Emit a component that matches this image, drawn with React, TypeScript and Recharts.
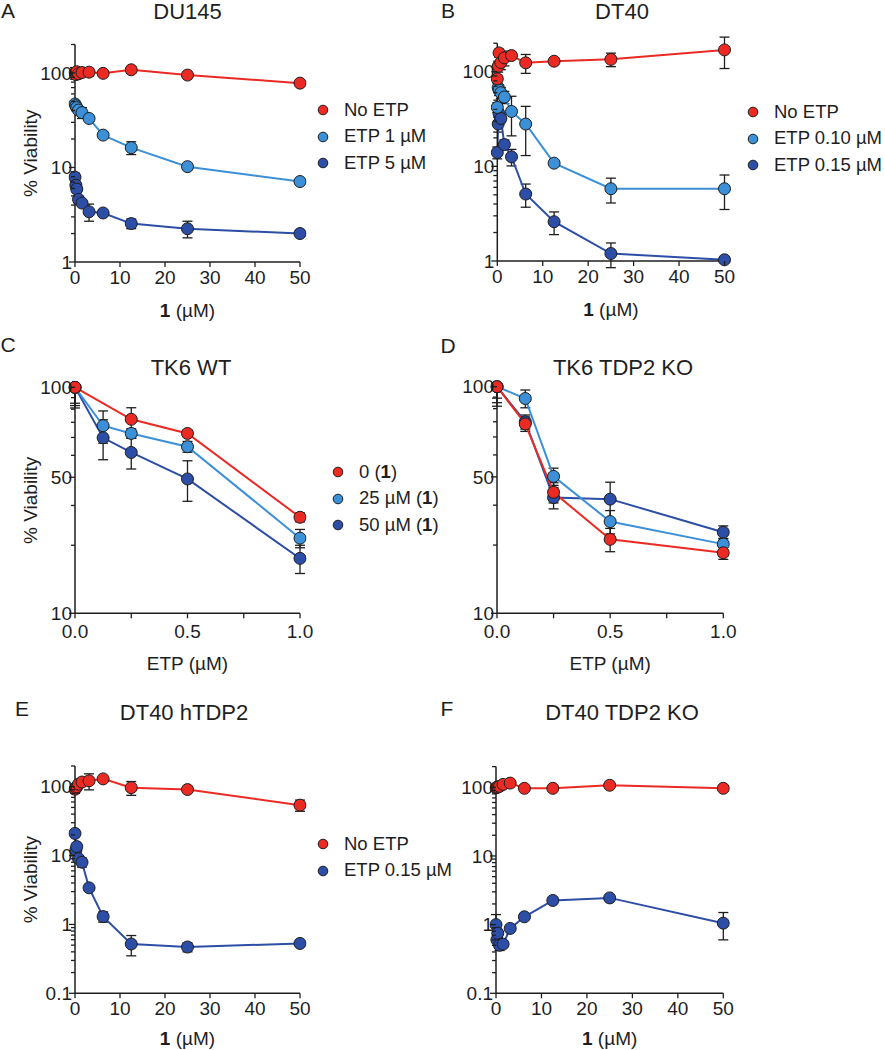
import React from 'react';
import { LineChart, Line, XAxis, YAxis, ErrorBar, Legend } from 'recharts';

const FONT = "'Liberation Sans', Arial, Helvetica, sans-serif";
const RED = '#ec2a24';
const LIGHT = '#3b90d8';
const DARK = '#2c4ea6';
const INK = '#1e1e1e';
const TICK_FS = 19;
const TITLE_FS = 22;

// ---------- x values ----------
const DOSE_X = [0, 0.195, 0.39, 0.78, 1.56, 3.125, 6.25, 12.5, 25, 50];
const ETP_X = [0, 0.125, 0.25, 0.5, 1];

type Err = number | [number, number] | null;

// ---------- A: DU145 ----------
const A_NO_ETP = [100, 96, 103, 98, 101, 102, 99, 108, 95, 78];
const A_NO_ETP_ERR: Err[] = [14, 10, 10, 8, 8, 10, 6, 7, 5, 3];
const A_ETP1 = [47, 45, 43, 40.5, 38, 33, 22, 16.2, 10.2, 7.1];
const A_ETP1_ERR: Err[] = [3, 3, 3, 3, 5, 2, 1.5, 2.5, 0.6, 0.3];
const A_ETP5 = [7.9, 6.5, 5.9, 4.6, 4.2, 3.4, 3.3, 2.55, 2.25, 2.0];
const A_ETP5_ERR: Err[] = [0.8, 0.6, 0.5, 0.4, 0.3, 0.7, 0.2, 0.3, 0.45, 0.1];

// ---------- B: DT40 ----------
const B_NO_ETP = [84, 114, 158, 125, 140, 148, 124, 129, 135, 170];
const B_NO_ETP_ERR: Err[] = [8, 15, 15, 20, 25, 10, 28, 10, 22, 62];
const B_ETP010 = [42, 68, 64, 60, 54, 38, 28, 10.8, 5.8, 5.8];
const B_ETP010_ERR: Err[] = [5, 5, 8, 8, 8, 17, 15, 0.5, 1.7, 2.3];
const B_ETP015 = [14, 28, 36, 32, 17, 12.6, 5.1, 2.6, 1.2, 1.03];
const B_ETP015_ERR: Err[] = [2, 5, 4, 3, 2, 2.5, 1.4, 0.7, 0.35, 0.05];

// ---------- C: TK6 WT ----------
const C_ZERO = [100, null, 72.2, 62.5, 26.6];
const C_ZERO_ERR: Err[] = [[15, 0], null, 9, 2, 1.2];
const C_25 = [100, 67.6, 62.5, 54.6, 21.5];
const C_25_ERR: Err[] = [[17, 0], 11, 3, 3, 2];
const C_50 = [100, 59.8, 51.5, 39.3, 17.5];
const C_50_ERR: Err[] = [[19, 0], 12, 8, 8, 2.5];

// ---------- D: TK6 TDP2 KO ----------
const D_ZERO = [100, 68.5, 34.2, 21.2, 18.5];
const D_ZERO_ERR: Err[] = [[11, 0], 5, 3.5, 2.5, 1.2];
const D_25 = [100, 88.7, 40.2, 25.4, 20.2];
const D_25_ERR: Err[] = [[15, 0], 8, 3.5, 3, 1.2];
const D_50 = [100, 70, 32.4, 31.9, 22.8];
const D_50_ERR: Err[] = [[18, 0], 5, 3.5, 6, 1.5];

// ---------- E: DT40 hTDP2 ----------
const E_NO_ETP = [92, 96, 100, 109, 117, 122, 130, 97, 91, 54];
const E_NO_ETP_ERR: Err[] = [12, 10, 10, 10, 8, 32, 8, 22, 6, 10];
const E_ETP015 = [21, 12, 13.5, 9, 8, 3.4, 1.3, 0.52, 0.47, 0.53];
const E_ETP015_ERR: Err[] = [2, 2, 1.5, 1, 1.2, 0.3, 0.22, 0.17, 0.07, 0.04];

// ---------- F: DT40 TDP2 KO ----------
const F_NO_ETP = [98, 100, 101, 103, 110, 115, 96.5, 96.5, 107, 96.5];
const F_NO_ETP_ERR: Err[] = [8, 5, 4, 4, 4, 4, 3, 3, 4, 3];
const F_ETP015 = [1.0, 0.6, 0.75, 0.5, 0.52, 0.88, 1.3, 2.25, 2.45, 1.05];
const F_ETP015_ERR: Err[] = [0.4, 0.1, 0.1, 0.08, 0.05, 0.06, 0.1, 0.12, 0.12, 0.45];

// ---------- ticks ----------
const LOG_TICKS_1_200 = [1, 2, 3, 4, 5, 6, 7, 8, 9, 10, 20, 30, 40, 50, 60, 70, 80, 90, 100, 200];
const LOG_LABELS_1_200: Record<string, string> = { '1': '1', '10': '10', '100': '100' };
const LOG_TICKS_10_100 = [10, 20, 30, 40, 50, 60, 70, 80, 90, 100];
const LOG_LABELS_10_100: Record<string, string> = { '10': '10', '40': '50', '100': '100' };
const LOG_TICKS_01_200 = [0.1, 0.2, 0.3, 0.4, 0.5, 0.6, 0.7, 0.8, 0.9, 1, 2, 3, 4, 5, 6, 7, 8, 9, 10, 20, 30, 40, 50, 60, 70, 80, 90, 100, 200];
const LOG_LABELS_01_200: Record<string, string> = { '0.1': '0.1', '1': '1', '10': '10', '100': '100' };
const DOSE_TICKS = [0, 10, 20, 30, 40, 50];
const DOSE_LABELS: Record<string, string> = { '0': '0', '10': '10', '20': '20', '30': '30', '40': '40', '50': '50' };
const ETP_TICKS = [0, 0.25, 0.5, 0.75, 1];
const ETP_LABELS: Record<string, string> = { '0': '0.0', '0.5': '0.5', '1': '1.0' };

type Series = { name: string; color: string; xs: number[]; values: (number | null)[]; errors: Err[] };

const mk = (name: string, color: string, xs: number[], values: (number | null)[], errors: Err[]): Series => ({ name, color, xs, values, errors });

const SERIES_A = [mk('No ETP', RED, DOSE_X, A_NO_ETP, A_NO_ETP_ERR), mk('ETP 1 µM', LIGHT, DOSE_X, A_ETP1, A_ETP1_ERR), mk('ETP 5 µM', DARK, DOSE_X, A_ETP5, A_ETP5_ERR)];
const SERIES_B = [mk('No ETP', RED, DOSE_X, B_NO_ETP, B_NO_ETP_ERR), mk('ETP 0.10 µM', LIGHT, DOSE_X, B_ETP010, B_ETP010_ERR), mk('ETP 0.15 µM', DARK, DOSE_X, B_ETP015, B_ETP015_ERR)];
const SERIES_C = [mk('0 (1)', RED, ETP_X, C_ZERO, C_ZERO_ERR), mk('25 µM (1)', LIGHT, ETP_X, C_25, C_25_ERR), mk('50 µM (1)', DARK, ETP_X, C_50, C_50_ERR)];
const SERIES_D = [mk('0 (1)', RED, ETP_X, D_ZERO, D_ZERO_ERR), mk('25 µM (1)', LIGHT, ETP_X, D_25, D_25_ERR), mk('50 µM (1)', DARK, ETP_X, D_50, D_50_ERR)];
const SERIES_E = [mk('No ETP', RED, DOSE_X, E_NO_ETP, E_NO_ETP_ERR), mk('ETP 0.15 µM', DARK, DOSE_X, E_ETP015, E_ETP015_ERR)];
const SERIES_F = [mk('No ETP', RED, DOSE_X, F_NO_ETP, F_NO_ETP_ERR), mk('ETP 0.15 µM', DARK, DOSE_X, F_ETP015, F_ETP015_ERR)];

const toData = (s: Series) =>
  s.xs
    .map((x, i) => ({ x, y: s.values[i], e: s.errors[i] }))
    .filter((d) => d.y != null);

const renderName = (name: string) => {
  const idx = name.indexOf('(1)');
  if (idx < 0) return name;
  return (
    <>
      {name.slice(0, idx)}(<b>1</b>){name.slice(idx + 3)}
    </>
  );
};

const LegendBox = ({ items }: { items: Series[] }) => (
  <div style={{ fontFamily: FONT, fontSize: 18.5, color: INK, lineHeight: 1 }}>
    {items.map((it) => (
      <div key={it.name} style={{ display: 'flex', alignItems: 'center', height: 26.5 }}>
        <svg width={12} height={12} style={{ flex: 'none' }}>
          <circle cx={6} cy={6} r={4.8} fill={it.color} stroke={INK} strokeWidth={1} />
        </svg>
        <span style={{ marginLeft: 15, whiteSpace: 'nowrap' }}>{renderName(it.name)}</span>
      </div>
    ))}
  </div>
);

const makeYTick = (labels: Record<string, string>) => (props: any) => {
  const { x, y, payload } = props;
  const lab = labels[String(payload.value)];
  const len = lab ? 6 : 4;
  return (
    <g>
      <line x1={x - len} x2={x} y1={y} y2={y} stroke={INK} strokeWidth={1.3} />
      {lab && (
        <text x={x - 3} y={y} dy="0.35em" textAnchor="end" fontFamily={FONT} fontSize={TICK_FS} fill={INK}>
          {lab}
        </text>
      )}
    </g>
  );
};

const makeXTick = (labels: Record<string, string>, gap: number) => (props: any) => {
  const { x, y, payload } = props;
  const lab = labels[String(payload.value)];
  return (
    <g>
      <line x1={x} x2={x} y1={y} y2={y + 5} stroke={INK} strokeWidth={1.3} />
      {lab && (
        <text x={x} y={y + gap} dy="0.35em" textAnchor="middle" fontFamily={FONT} fontSize={TICK_FS} fill={INK}>
          {lab}
        </text>
      )}
    </g>
  );
};

const makeXTitle = (kind: 'dose' | 'etp', dy: number) => (props: any) => {
  const vb = props.viewBox;
  const cx = vb.x + vb.width / 2;
  const cy = vb.y + dy;
  return (
    <text x={cx} y={cy} dy="0.35em" textAnchor="middle" fontFamily={FONT} fontSize={TICK_FS} fill={INK}>
      {kind === 'dose' ? (
        <>
          <tspan fontWeight={700}>1</tspan>
          <tspan> (µM)</tspan>
        </>
      ) : (
        'ETP (µM)'
      )}
    </text>
  );
};

const makeYTitle = () => (props: any) => {
  const vb = props.viewBox;
  const cx = vb.x + vb.width - 45;
  const cy = vb.y + vb.height / 2;
  return (
    <text x={cx} y={cy} dy="0.35em" textAnchor="middle" fontFamily={FONT} fontSize={TICK_FS} fill={INK} transform={`rotate(-90 ${cx} ${cy})`}>
      % Viability
    </text>
  );
};

type PanelCfg = {
  letter: string;
  letterPos: [number, number];
  title: string;
  titlePos: [number, number];
  left: number;
  top: number;
  width: number;
  height: number;
  plot: { l: number; r: number; t: number; b: number };
  yDomain: [number, number];
  yTicks: number[];
  yLabels: Record<string, string>;
  xDomain: [number, number];
  xTicks: number[];
  xLabels: Record<string, string>;
  xKind: 'dose' | 'etp';
  xGap: number;
  xTitleDy: number;
  showYTitle: boolean;
  series: Series[];
  legend?: { left: number; top: number };
};

const X_AXIS_H = 40;
const M_LEFT = 10;

const Panel = ({ p }: { p: PanelCfg }) => {
  const yW = p.plot.l - M_LEFT;
  const margin = {
    top: p.plot.t,
    left: M_LEFT,
    right: p.width - p.plot.r,
    bottom: p.height - p.plot.b - X_AXIS_H,
  };
  const drawOrder = [...p.series].reverse();
  return (
    <>
      <div style={{ position: 'absolute', left: p.left, top: p.top, width: p.width, height: p.height }}>
        <LineChart width={p.width} height={p.height} margin={margin}>
          <XAxis
            type="number"
            dataKey="x"
            domain={p.xDomain}
            ticks={p.xTicks}
            interval={0}
            tickSize={0}
            tickMargin={0}
            tickLine={false}
            axisLine={{ stroke: INK, strokeWidth: 1.5 }}
            tick={makeXTick(p.xLabels, p.xGap)}
            height={X_AXIS_H}
            label={makeXTitle(p.xKind, p.xTitleDy)}
            allowDataOverflow
          />
          <YAxis
            type="number"
            scale="log"
            domain={p.yDomain}
            ticks={p.yTicks}
            interval={0}
            tickSize={0}
            tickMargin={0}
            tickLine={false}
            axisLine={{ stroke: INK, strokeWidth: 1.5 }}
            tick={makeYTick(p.yLabels)}
            width={yW}
            allowDataOverflow
            label={p.showYTitle ? makeYTitle() : undefined}
          />
          {drawOrder.map((s) => (
            <Line
              key={s.name}
              data={toData(s)}
              dataKey="y"
              name={s.name}
              stroke={s.color}
              strokeWidth={2}
              dot={{ r: 6, fill: s.color, stroke: INK, strokeWidth: 1, clipDot: false } as any}
              activeDot={false}
              isAnimationActive={false}
              legendType="circle"
            >
              <ErrorBar dataKey="e" width={5} stroke={INK} strokeWidth={1.3} direction="y" />
            </Line>
          ))}
          {p.legend && (
            <Legend
              layout="vertical"
              verticalAlign="middle"
              align="center"
              wrapperStyle={{ left: p.legend.left, top: p.legend.top, width: 'auto' }}
              content={() => <LegendBox items={p.series} />}
            />
          )}
        </LineChart>
      </div>
      <div
        style={{
          position: 'absolute',
          left: p.titlePos[0],
          top: p.titlePos[1],
          transform: 'translate(-50%, -50%)',
          fontFamily: FONT,
          fontSize: TITLE_FS,
          color: INK,
          whiteSpace: 'nowrap',
          lineHeight: 1,
        }}
      >
        {p.title}
      </div>
      <div
        style={{
          position: 'absolute',
          left: p.letterPos[0],
          top: p.letterPos[1],
          transform: 'translate(-50%, -50%)',
          fontFamily: FONT,
          fontSize: 21,
          color: INK,
          lineHeight: 1,
        }}
      >
        {p.letter}
      </div>
    </>
  );
};

const PANELS: PanelCfg[] = [
  {
    letter: 'A', letterPos: [8, 10], title: 'DU145', titlePos: [187.5, 12],
    left: 0, top: 0, width: 440, height: 330,
    plot: { l: 75, r: 300, t: 44.5, b: 262 },
    yDomain: [1, 200], yTicks: LOG_TICKS_1_200, yLabels: LOG_LABELS_1_200,
    xDomain: [0, 50], xTicks: DOSE_TICKS, xLabels: DOSE_LABELS, xKind: 'dose', xGap: 15, xTitleDy: 48,
    showYTitle: true, series: SERIES_A, legend: { left: 317, top: 96.75 },
  },
  {
    letter: 'B', letterPos: [448, 10], title: 'DT40', titlePos: [622, 12],
    left: 440, top: 0, width: 445, height: 330,
    plot: { l: 57.3, r: 284.5, t: 43.2, b: 261 },
    yDomain: [1, 200], yTicks: LOG_TICKS_1_200, yLabels: LOG_LABELS_1_200,
    xDomain: [0, 50], xTicks: DOSE_TICKS, xLabels: DOSE_LABELS, xKind: 'dose', xGap: 15, xTitleDy: 48,
    showYTitle: false, series: SERIES_B, legend: { left: 307, top: 98.75 },
  },
  {
    letter: 'C', letterPos: [8, 344], title: 'TK6 WT', titlePos: [191, 368],
    left: 0, top: 330, width: 440, height: 360,
    plot: { l: 75, r: 300, t: 57.3, b: 283.3 },
    yDomain: [10, 100], yTicks: LOG_TICKS_10_100, yLabels: LOG_LABELS_10_100,
    xDomain: [0, 1], xTicks: ETP_TICKS, xLabels: ETP_LABELS, xKind: 'etp', xGap: 18, xTitleDy: 50,
    showYTitle: true, series: SERIES_C, legend: { left: 332, top: 128.75 },
  },
  {
    letter: 'D', letterPos: [448, 345], title: 'TK6 TDP2 KO', titlePos: [623, 368],
    left: 440, top: 330, width: 445, height: 360,
    plot: { l: 57, r: 283.3, t: 56.7, b: 283.3 },
    yDomain: [10, 100], yTicks: LOG_TICKS_10_100, yLabels: LOG_LABELS_10_100,
    xDomain: [0, 1], xTicks: ETP_TICKS, xLabels: ETP_LABELS, xKind: 'etp', xGap: 18, xTitleDy: 50,
    showYTitle: false, series: SERIES_D,
  },
  {
    letter: 'E', letterPos: [22, 708], title: 'DT40 hTDP2', titlePos: [184, 713],
    left: 0, top: 680, width: 440, height: 370,
    plot: { l: 75, r: 300, t: 86, b: 313.3 },
    yDomain: [0.1, 200], yTicks: LOG_TICKS_01_200, yLabels: LOG_LABELS_01_200,
    xDomain: [0, 50], xTicks: DOSE_TICKS, xLabels: DOSE_LABELS, xKind: 'dose', xGap: 15, xTitleDy: 45,
    showYTitle: true, series: SERIES_E, legend: { left: 317, top: 150.75 },
  },
  {
    letter: 'F', letterPos: [447, 708], title: 'DT40 TDP2 KO', titlePos: [622, 713],
    left: 440, top: 680, width: 445, height: 370,
    plot: { l: 56, r: 283.3, t: 86.6, b: 313.3 },
    yDomain: [0.1, 200], yTicks: LOG_TICKS_01_200, yLabels: LOG_LABELS_01_200,
    xDomain: [0, 50], xTicks: DOSE_TICKS, xLabels: DOSE_LABELS, xKind: 'dose', xGap: 15, xTitleDy: 45,
    showYTitle: false, series: SERIES_F,
  },
];

export default function App() {
  return (
    <div style={{ position: 'absolute', left: 0, top: 0, width: 885, height: 1050, background: '#fff', overflow: 'hidden' }}>
      {PANELS.map((p) => (
        <Panel key={p.letter} p={p} />
      ))}
    </div>
  );
}
